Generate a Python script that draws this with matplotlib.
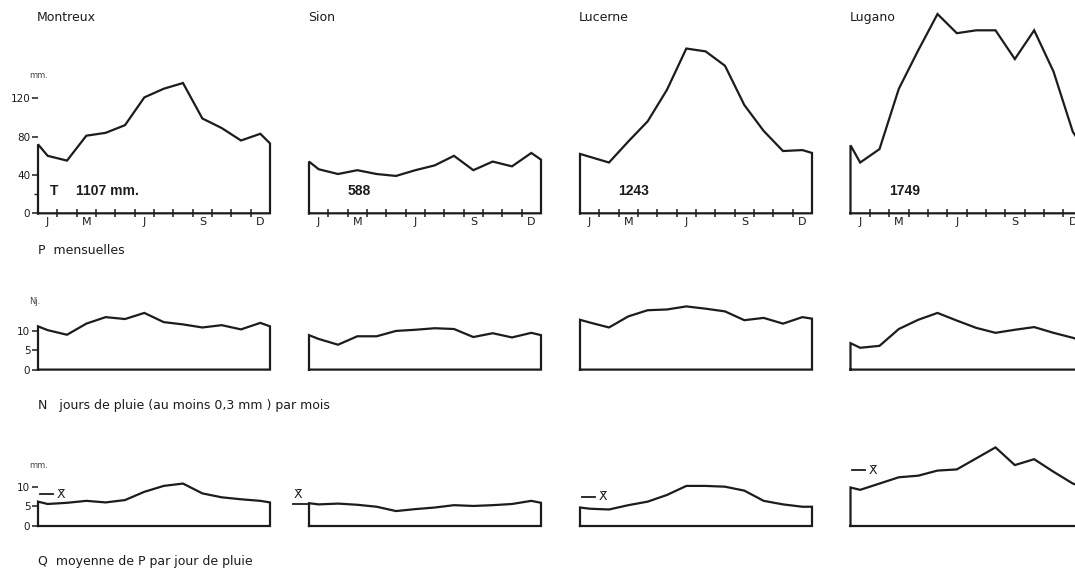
import matplotlib
matplotlib.use("Agg")
import matplotlib.pyplot as plt

W, H = 1075, 574
FONT = "DejaVu Sans"
INK = "#1c1c1c"

stations = ["Montreux", "Sion", "Lucerne", "Lugano"]
totals = ["1107 mm.", "588", "1243", "1749"]
month_labels = ["J", "M", "J", "S", "D"]
month_label_idx = [0, 2, 5, 8, 11]

# Monthly precipitation P (mm), Jan..Dec, plus values at the panel edges
p_montreux = [60, 55, 81, 84, 92, 121, 130, 136, 99, 89, 76, 83]
p_sion = [46, 41, 45, 41, 39, 45, 50, 60, 45, 54, 49, 63]
p_lucerne = [59, 53, 75, 96, 129, 172, 169, 154, 113, 86, 65, 66]
p_lugano = [53, 67, 130, 170, 208, 188, 191, 191, 161, 191, 148, 85]
p_edges = [(72, 73), (54, 56), (62, 63), (71, 70)]

# Rain days N per month
n_montreux = [10.3, 9.1, 12.0, 13.7, 13.2, 14.8, 12.4, 11.8, 11.0, 11.6, 10.5, 12.2]
n_sion = [8.0, 6.5, 8.7, 8.7, 10.1, 10.4, 10.8, 10.6, 8.5, 9.5, 8.4, 9.6]
n_lucerne = [12.3, 11.0, 13.9, 15.5, 15.7, 16.5, 15.9, 15.2, 12.9, 13.5, 12.0, 13.7]
n_lugano = [5.7, 6.2, 10.6, 13.0, 14.8, 12.8, 10.9, 9.6, 10.4, 11.1, 9.6, 8.3]
n_edges = [(11.3, 11.3), (9.0, 9.0), (13.0, 13.3), (6.9, 7.5)]

# Mean precipitation per rain day Q (mm)
q_montreux = [5.6, 5.9, 6.4, 6.0, 6.6, 8.7, 10.2, 10.8, 8.3, 7.3, 6.8, 6.4]
q_sion = [5.5, 5.7, 5.4, 4.9, 3.8, 4.3, 4.7, 5.3, 5.1, 5.3, 5.6, 6.4]
q_lucerne = [4.4, 4.2, 5.3, 6.2, 7.9, 10.2, 10.2, 10.0, 9.0, 6.4, 5.5, 4.9]
q_lugano = [9.2, 10.8, 12.4, 12.8, 14.1, 14.4, 17.2, 20.0, 15.5, 17.0, 13.8, 10.8]
q_edges = [(6.2, 6.0), (5.8, 5.9), (4.7, 4.9), (9.8, 10.0)]
q_mean = [8.1, 5.5, 7.5, 14.2]

rows = [
    dict(data=[p_montreux, p_sion, p_lucerne, p_lugano], edges=p_edges,
         y0=213.3, scale=0.958, ymax=225, yticks=[0, 40, 80, 120], unit="mm.",
         unit_y=76, caption="P  mensuelles", cap_y=250, months=True),
    dict(data=[n_montreux, n_sion, n_lucerne, n_lugano], edges=n_edges,
         y0=369.6, scale=3.83, ymax=20, yticks=[0, 5, 10], unit="Nj.",
         unit_y=302, caption="N   jours de pluie (au moins 0,3 mm ) par mois",
         cap_y=406, months=False),
    dict(data=[q_montreux, q_sion, q_lucerne, q_lugano], edges=q_edges,
         y0=526, scale=3.93, ymax=24, yticks=[0, 5, 10], unit="mm.",
         unit_y=465, caption="Q  moyenne de P par jour de pluie",
         cap_y=562, months=False),
]

col_left = [38, 309, 580, 850.5]
panel_w = 232

fig = plt.figure(figsize=(W / 100, H / 100), dpi=100)
fig.patch.set_facecolor("white")


def ftext(x, y, s, **kw):
    kw.setdefault("family", FONT)
    kw.setdefault("color", INK)
    fig.text(x / W, 1 - y / H, s, **kw)


for r, row in enumerate(rows):
    for c in range(4):
        left = col_left[c]
        hpx = row["ymax"] * row["scale"]
        ax = fig.add_axes([left / W, 1 - row["y0"] / H, panel_w / W, hpx / H])
        ax.set_xlim(0, 12)
        ax.set_ylim(0, row["ymax"])
        for s in ax.spines.values():
            s.set_visible(False)
        ax.patch.set_alpha(0)
        vals = row["data"][c]
        eL, eR = row["edges"][c]
        xs = [0, 0] + [i + 0.5 for i in range(12)] + [12, 12, 0]
        ys = [0, eL] + list(vals) + [eR, 0, 0]
        ax.plot(xs, ys, color=INK, lw=1.6, clip_on=False,
                solid_joinstyle="miter", solid_capstyle="projecting")

        if row["months"]:
            ax.set_xticks(range(1, 12))
            ax.tick_params(axis="x", which="major", direction="inout",
                           length=5.8, width=1.1, color=INK, labelbottom=False)
            ax.set_xticks([i + 0.5 for i in month_label_idx], minor=True)
            ax.set_xticklabels(month_labels, minor=True, family=FONT,
                               fontsize=8, color=INK)
            ax.tick_params(axis="x", which="minor", length=0, pad=3)
        else:
            ax.set_xticks([])

        if c == 0:
            ax.set_yticks(row["yticks"])
            ax.set_yticklabels([str(t) for t in row["yticks"]], family=FONT,
                               fontsize=7.5, color=INK)
            ax.tick_params(axis="y", which="major", direction="out", length=4,
                           width=1.1, color=INK, pad=1.5)
            if r == 0:
                ax.set_yticks([20], minor=True)
                ax.tick_params(axis="y", which="minor", direction="out",
                               length=3, width=1.0, color=INK)
        else:
            ax.set_yticks([])

        if r == 0:
            ftext(left - 1, 21, stations[c], fontsize=9, va="baseline",
                  ha="left")
            if c == 0:
                ftext(left + 12, 191, "T", fontsize=10, va="center",
                      ha="left", weight="bold", family="Liberation Sans")
            ftext(left + 38.5, 191, totals[c], fontsize=10, va="center",
                  ha="left", weight="bold", family="Liberation Sans")

        if r == 2:
            m = q_mean[c]
            if c == 1:
                ax.plot([-0.85, 0], [m, m], color=INK, lw=1.3, clip_on=False)
                ax.text(-0.55, m + 2.6, "X\u0304", family="DejaVu Sans",
                        fontsize=9, color=INK, ha="center", va="center")
            else:
                ax.plot([0.1, 0.75], [m, m], color=INK, lw=1.3, clip_on=False)
                ax.text(0.95, m, "X\u0304", family="DejaVu Sans", fontsize=9,
                        color=INK, ha="left", va="center")

    ftext(29, row["unit_y"], row["unit"], fontsize=6, va="center", ha="left",
          color="#444444")
    ftext(38, row["cap_y"], row["caption"], fontsize=9, va="center", ha="left")

fig.savefig("out.png", dpi=100, facecolor="white")
